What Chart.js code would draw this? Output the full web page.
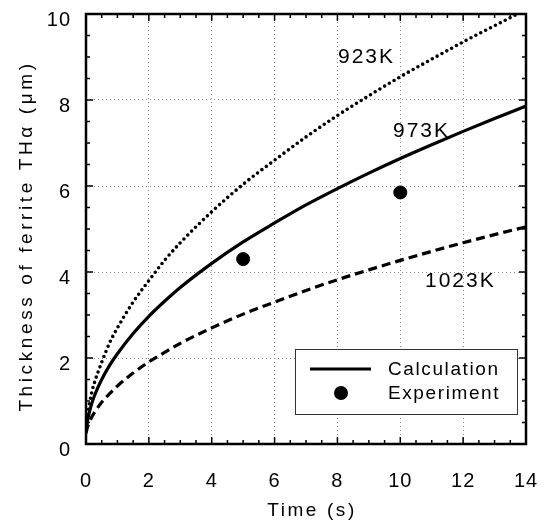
<!DOCTYPE html>
<html>
<head>
<meta charset="utf-8">
<script src="https://cdn.jsdelivr.net/npm/chart.js@4/dist/chart.umd.min.js"></script>
<style>
html,body{margin:0;padding:0;background:#fff;}
#wrap{width:560px;height:524px;position:relative;}
</style>
</head>
<body>
<div id="wrap"><canvas id="c" width="560" height="524"></canvas></div>
<script>
// ---- data ----
const times = [0, 0.05, 0.1, 0.2, 0.3, 0.5, 0.75, 1, 1.5, 2, 2.5, 3, 4, 5, 6, 7, 8, 9, 10, 11, 12, 13, 14];
const thick923 = [0.3, 0.65, 0.9, 1.25, 1.5, 1.9, 2.35, 2.7, 3.3, 3.8, 4.27, 4.68, 5.4, 6.04, 6.6, 7.14, 7.64, 8.1, 8.54, 8.95, 9.35, 9.73, 10.1];
const thick973 = [0.3, 0.55, 0.72, 0.98, 1.18, 1.5, 1.83, 2.1, 2.57, 2.97, 3.32, 3.64, 4.2, 4.7, 5.14, 5.56, 5.94, 6.3, 6.64, 6.96, 7.27, 7.57, 7.86];
const thick1023 = [0.25, 0.4, 0.5, 0.65, 0.77, 0.97, 1.17, 1.35, 1.65, 1.91, 2.13, 2.34, 2.7, 3.02, 3.3, 3.57, 3.82, 4.05, 4.27, 4.48, 4.68, 4.87, 5.05];
const expTimes = [5, 10];
const expThick = [4.3, 5.85];
const xTicks = [0, 2, 4, 6, 8, 10, 12, 14];
const yTicks = [0, 2, 4, 6, 8, 10];
const curveLabels = ['923K', '973K', '1023K'];
const legendLabels = ['Calculation', 'Experiment'];
const xTitle = 'Time (s)';
const yTitle = 'Thickness of ferrite THα (μm)';

const FONT = "'Liberation Sans', Arial, sans-serif";
const toXY = (xs, ys) => xs.map((x, i) => ({x: x, y: ys[i]}));

const curveStyle = {
  showLine: true, pointRadius: 0, borderColor: '#000', borderWidth: 3.2,
  tension: 0, cubicInterpolationMode: 'monotone', fill: false
};

const decor = {
  id: 'decor',
  beforeDraw(chart) {
    chart.ctx.letterSpacing = '1px';
  },
  afterDatasetsDraw(chart) {
    const {ctx, chartArea: a, scales: {x, y}} = chart;
    ctx.save();
    // inside ticks on all four sides
    ctx.strokeStyle = '#000';
    ctx.lineWidth = 1.5;
    for (let v = 0; v <= 14.001; v += 0.5) {
      const px = x.getPixelForValue(v);
      const len = Math.abs(v / 2 - Math.round(v / 2)) < 1e-6 ? 7 : 4;
      ctx.beginPath();
      ctx.moveTo(px, a.bottom); ctx.lineTo(px, a.bottom - len);
      ctx.moveTo(px, a.top); ctx.lineTo(px, a.top + len);
      ctx.stroke();
    }
    for (let v = 0; v <= 10.001; v += 0.5) {
      const py = y.getPixelForValue(v);
      const len = Math.abs(v / 2 - Math.round(v / 2)) < 1e-6 ? 7 : 4;
      ctx.beginPath();
      ctx.moveTo(a.left, py); ctx.lineTo(a.left + len, py);
      ctx.moveTo(a.right, py); ctx.lineTo(a.right - len, py);
      ctx.stroke();
    }
    // frame
    ctx.lineWidth = 2.5;
    ctx.strokeRect(a.left, a.top, a.right - a.left, a.bottom - a.top);

    // curve labels
    ctx.fillStyle = '#000';
    ctx.font = '21px ' + FONT;
    ctx.letterSpacing = '2px';
    ctx.textAlign = 'left';
    ctx.textBaseline = 'middle';
    ctx.fillText(curveLabels[0], 338, 57);
    ctx.fillText(curveLabels[1], 393, 131);
    ctx.fillText(curveLabels[2], 425, 281);

    // legend box
    const bx = 295, by = 349, bw = 222, bh = 65;
    ctx.fillStyle = '#fff';
    ctx.fillRect(bx, by, bw, bh);
    ctx.strokeStyle = '#333';
    ctx.lineWidth = 1;
    ctx.strokeRect(bx + 0.5, by + 0.5, bw, bh);
    ctx.strokeStyle = '#000';
    ctx.lineWidth = 3.2;
    ctx.beginPath();
    ctx.moveTo(bx + 15, by + 20); ctx.lineTo(bx + 76, by + 20);
    ctx.stroke();
    ctx.fillStyle = '#000';
    ctx.beginPath();
    ctx.arc(bx + 46, by + 44, 7, 0, Math.PI * 2);
    ctx.fill();
    ctx.font = '19px ' + FONT;
    ctx.letterSpacing = '1.6px';
    ctx.textBaseline = 'middle';
    ctx.fillText(legendLabels[0], bx + 93, by + 21);
    ctx.fillText(legendLabels[1], bx + 93, by + 45);

    // axis titles
    ctx.textAlign = 'center';
    ctx.font = '19px ' + FONT;
    ctx.letterSpacing = '2.6px';
    ctx.textBaseline = 'middle';
    ctx.fillText(xTitle, (a.left + a.right) / 2 + 6, 511);
    ctx.save();
    ctx.translate(27, 236);
    ctx.rotate(-Math.PI / 2);
    ctx.letterSpacing = '3.6px';
    ctx.fillText(yTitle, 0, 0);
    ctx.restore();
    ctx.restore();
  }
};

new Chart(document.getElementById('c'), {
  type: 'scatter',
  data: {
    datasets: [
      Object.assign({}, curveStyle, {label: '923K', data: toXY(times, thick923), borderDash: [0, 5.5], borderCapStyle: 'round', borderWidth: 3.6}),
      Object.assign({}, curveStyle, {label: '973K', data: toXY(times, thick973)}),
      Object.assign({}, curveStyle, {label: '1023K', data: toXY(times, thick1023), borderDash: [9, 5]}),
      {label: 'Experiment', data: toXY(expTimes, expThick), pointRadius: 6.5, pointBackgroundColor: '#000', pointBorderColor: '#000', showLine: false}
    ]
  },
  options: {
    responsive: false,
    animation: false,
    devicePixelRatio: 1,
    layout: {padding: {top: 14, right: 34, left: 0, bottom: 0}},
    plugins: {legend: {display: false}, tooltip: {enabled: false}},
    scales: {
      x: {
        type: 'linear', min: 0, max: 14,
        afterBuildTicks: s => { s.ticks = xTicks.map(v => ({value: v})); },
        afterFit: s => { s.height = 80; s.paddingLeft = 0; s.paddingRight = 0; },
        grid: {color: '#888', lineWidth: 1, drawTicks: false},
        border: {display: false, dash: [1, 3]},
        ticks: {color: '#000', padding: 25, font: {family: FONT, size: 20}, maxRotation: 0},
        title: {display: false}
      },
      y: {
        type: 'linear', min: 0, max: 10,
        afterBuildTicks: s => { s.ticks = yTicks.map(v => ({value: v})); },
        afterFit: s => { s.width = 86; s.paddingTop = 0; s.paddingBottom = 0; },
        grid: {color: '#888', lineWidth: 1, drawTicks: false},
        border: {display: false, dash: [1, 3]},
        ticks: {color: '#000', padding: 15, labelOffset: 6, font: {family: FONT, size: 20}},
        title: {display: false}
      }
    }
  },
  plugins: [decor]
});
</script>
</body>
</html>
